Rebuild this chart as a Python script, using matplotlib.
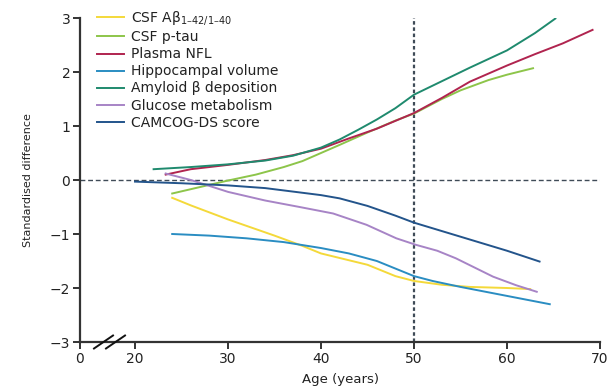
import matplotlib

matplotlib.use('Agg')
import matplotlib.pyplot as plt
from matplotlib.lines import Line2D

plt.rcParams['font.family'] = ['DejaVu Sans']
plt.rcParams['mathtext.fontset'] = 'dejavusans'

# --- data (age in years, standardised difference) ---
abeta_age = [24, 26, 30, 35, 38, 40, 45, 48, 50, 53, 56, 60, 62.5]
abeta_val = [-0.33, -0.47, -0.73, -1.03, -1.22, -1.36, -1.57, -1.78, -1.87, -1.94, -1.98, -2.0, -2.02]

ptau_age = [24, 27, 30, 33, 36, 38, 40, 42, 45, 48, 50, 53, 55, 58, 60, 62.8]
ptau_val = [-0.25, -0.13, -0.01, 0.1, 0.24, 0.35, 0.5, 0.65, 0.88, 1.1, 1.23, 1.5, 1.66, 1.85, 1.95, 2.07]

nfl_age = [23.3, 26, 30, 34, 37, 40, 43, 46, 50, 53, 56, 60, 63, 66, 69.2]
nfl_val = [0.1, 0.2, 0.28, 0.37, 0.46, 0.58, 0.77, 0.95, 1.24, 1.52, 1.82, 2.12, 2.33, 2.53, 2.78]

hippo_age = [24, 28, 32, 36, 40, 43, 46, 48, 50, 52, 55, 58, 61, 64.6]
hippo_val = [-1.0, -1.03, -1.08, -1.15, -1.26, -1.36, -1.5, -1.64, -1.78, -1.87, -1.98, -2.08, -2.18, -2.3]

amyloid_age = [22, 26, 30, 34, 37, 40, 42, 44, 46, 48, 50, 53, 56, 60, 63, 65.2]
amyloid_val = [0.2, 0.24, 0.29, 0.36, 0.45, 0.6, 0.75, 0.93, 1.12, 1.33, 1.58, 1.83, 2.08, 2.4, 2.72, 2.99]

glucose_age = [23.3, 26, 30, 34, 37.7, 41.3, 44.9, 48.1, 50.2, 52.5, 54.5, 56.5, 58.5, 61, 63.2]
glucose_val = [0.12, 0.0, -0.22, -0.38, -0.5, -0.62, -0.83, -1.08, -1.2, -1.31, -1.45, -1.62, -1.79, -1.95, -2.07]

camcog_age = [20, 25, 30, 34, 37.7, 40, 42, 45, 48, 50, 55, 60, 63.5]
camcog_val = [-0.03, -0.06, -0.1, -0.15, -0.23, -0.28, -0.34, -0.48, -0.66, -0.79, -1.05, -1.31, -1.51]

x_tick_labels = ['0', '20', '30', '40', '50', '60', '70']
y_ticks = [-3, -2, -1, 0, 1, 2, 3]

series = [
    (abeta_age, abeta_val, '#F4D93A', 'CSF A\u03b2$_{\\mathregular{1\u201342/1\u201340}}$'),
    (ptau_age, ptau_val, '#8DC54A', 'CSF p-tau'),
    (nfl_age, nfl_val, '#B0244F', 'Plasma NFL'),
    (hippo_age, hippo_val, '#2A8DC2', 'Hippocampal volume'),
    (amyloid_age, amyloid_val, '#1F8A6E', 'Amyloid \u03b2 deposition'),
    (glucose_age, glucose_val, '#A784C6', 'Glucose metabolism'),
    (camcog_age, camcog_val, '#23548B', 'CAMCOG-DS score'),
]

fig = plt.figure(figsize=(6.12, 3.86), dpi=100)
ax = fig.add_axes([80 / 612, 44 / 386, 520 / 612, 324 / 386])

# the "0" tick sits where the axis is broken, 55 px left of 20
x_zero = 20 - 55 / 9.3
ax.set_xlim(x_zero, 70)
ax.set_ylim(-3, 3)

ax.axhline(0, color='#3f4b57', lw=1.0, ls=(0, (3.5, 2.0)), zorder=1)
ax.axvline(50, color='#3f4b57', lw=1.6, ls=(0, (1.6, 1.2)), zorder=1)

for xs, ys, col, lab in series:
    ax.plot(xs, ys, color=col, lw=1.4, label=lab, zorder=3)

ax.set_xticks([x_zero, 20, 30, 40, 50, 60, 70])
ax.set_xticklabels(x_tick_labels)
ax.set_yticks(y_ticks)
ax.set_yticklabels(['\u22123', '\u22122', '\u22121', '0', '1', '2', '3'])

for s in ['top', 'right']:
    ax.spines[s].set_visible(False)
for s in ['left', 'bottom']:
    ax.spines[s].set_color('#333333')
    ax.spines[s].set_linewidth(1.6)
ax.tick_params(direction='out', length=5, width=1.4, color='#333333',
               labelsize=10, labelcolor='#222222', pad=2)

ax.set_xlabel('Age (years)', fontsize=9.5, color='#222222')
ax.xaxis.set_label_coords(0.5, -0.095)
ax.set_ylabel('Standardised difference', fontsize=8, color='#222222')
ax.yaxis.set_label_coords(-0.09, 0.5)

# broken-axis marks
for x0 in [94, 106]:
    fig.add_artist(Line2D([x0 / 612, (x0 + 19) / 612],
                          [(386 - 348.5) / 386, (386 - 335.5) / 386],
                          color='#111111', lw=1.4))

leg = ax.legend(loc='upper left', bbox_to_anchor=(0.033, 1.027), frameon=False,
                fontsize=10, handlelength=1.95, handletextpad=0.5,
                labelspacing=0.22, borderpad=0, borderaxespad=0)
for t in leg.get_texts():
    t.set_color('#222222')

fig.savefig('out.png', dpi=100)
